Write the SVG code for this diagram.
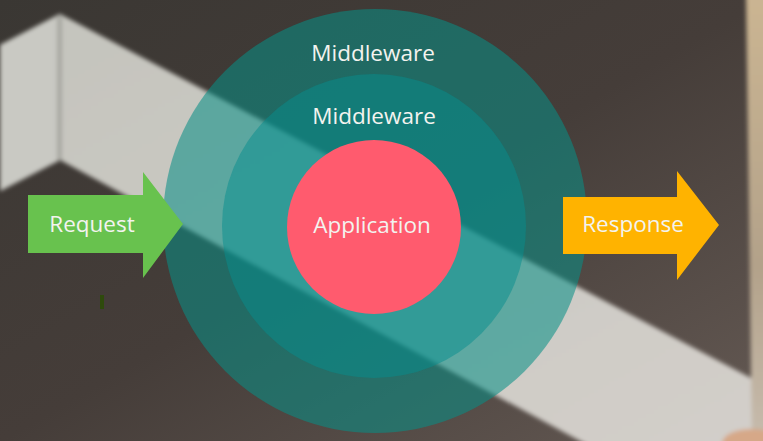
<svg xmlns="http://www.w3.org/2000/svg" width="763" height="441" viewBox="0 0 763 441">
  <style>
    .lbl { font-family: "Open Sans", "DejaVu Sans", sans-serif; font-size: 22.5px; fill: #f3f3ef; text-anchor: middle; }
  </style>
  <defs>
    <linearGradient id="bgGrad" x1="0" y1="0" x2="1" y2="1">
      <stop offset="0" stop-color="#3a3733"/>
      <stop offset="0.5" stop-color="#453d39"/>
      <stop offset="1" stop-color="#655a54"/>
    </linearGradient>
    <linearGradient id="bandGrad" x1="0" y1="0" x2="1" y2="1">
      <stop offset="0" stop-color="#c4c4bd"/>
      <stop offset="1" stop-color="#d3cfca"/>
    </linearGradient>
    <linearGradient id="stripGrad" x1="0" y1="0" x2="0" y2="1">
      <stop offset="0" stop-color="#cbb592"/>
      <stop offset="0.6" stop-color="#b3a28a"/>
      <stop offset="1" stop-color="#c7bcae"/>
    </linearGradient>
    <filter id="soft" x="-5%" y="-5%" width="110%" height="110%">
      <feGaussianBlur stdDeviation="2"/>
    </filter>
  </defs>

  <!-- background scene -->
  <g id="background">
    <rect x="0" y="0" width="763" height="441" fill="url(#bgGrad)"/>
    <g filter="url(#soft)">
      <polygon points="0,45 60,14 770,388 770,448 593,448 60,160 0,191" fill="url(#bandGrad)"/>
      <polygon points="0,45 60,14 60,160 0,191" fill="#c9c9c3"/>
      <rect x="57" y="16" width="5" height="144" fill="#a7a7a1"/>
      <polygon points="746,-5 770,-5 770,446 752,446" fill="url(#stripGrad)"/>
      <ellipse cx="752" cy="443" rx="30" ry="14" fill="#d6a888"/>
    </g>
    <rect x="100" y="295" width="4" height="14" fill="#2e4a0c"/>
  </g>

  <g id="outer-middleware">
    <circle cx="375" cy="221" r="212" fill="#078f86" fill-opacity="0.56"/>
    <text class="lbl" x="373" y="61">Middleware</text>
  </g>

  <g id="inner-middleware">
    <circle cx="374" cy="226" r="152" fill="#058e8d" fill-opacity="0.5"/>
    <text class="lbl" x="374" y="124">Middleware</text>
  </g>

  <g id="application">
    <circle cx="374" cy="227" r="87" fill="#ff5b6e"/>
    <text class="lbl" x="372" y="232.5" font-size="23">Application</text>
  </g>

  <g id="connectors">
    <g id="request">
      <polygon points="28,195 143,195 143,172 183,224 143,278 143,253 28,253" fill="#68c24e"/>
      <text class="lbl" x="92" y="232" font-size="23">Request</text>
    </g>
    <g id="response">
      <polygon points="563,197 677,197 677,171 719,225 677,280 677,254 563,254" fill="#ffb300"/>
      <text class="lbl" x="633" y="232" font-size="23">Response</text>
    </g>
  </g>
</svg>
